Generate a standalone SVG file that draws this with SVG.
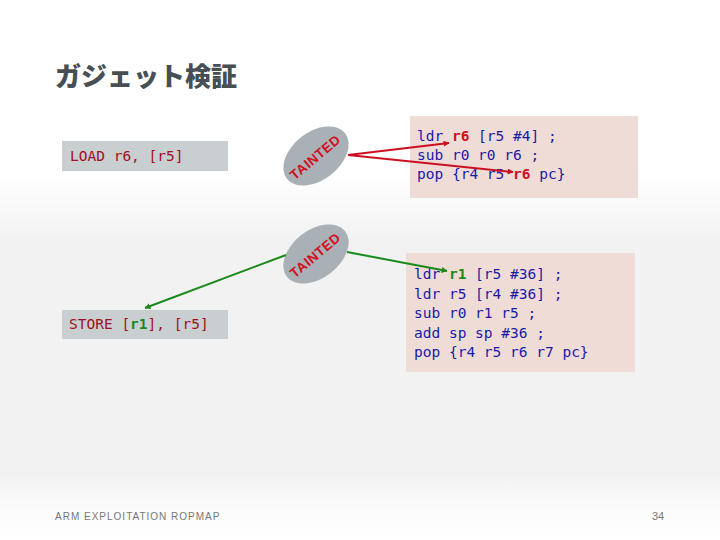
<svg xmlns="http://www.w3.org/2000/svg" width="720" height="540" viewBox="0 0 720 540">
<defs>
<linearGradient id="bg" x1="0" y1="0" x2="0" y2="1">
<stop offset="0" stop-color="#ffffff"/>
<stop offset="0.32" stop-color="#ffffff"/>
<stop offset="0.45" stop-color="#f2f2f2"/>
<stop offset="0.88" stop-color="#f2f2f2"/>
<stop offset="0.94" stop-color="#fbfbfb"/>
<stop offset="1" stop-color="#ffffff"/>
</linearGradient>
<marker id="ar" viewBox="0 0 10 10" refX="9" refY="5" markerWidth="6" markerHeight="6" orient="auto" markerUnits="userSpaceOnUse"><path d="M0,0 L10,5 L0,10 z" fill="#cc1020"/></marker>
<marker id="ag" viewBox="0 0 10 10" refX="9" refY="5" markerWidth="6" markerHeight="6" orient="auto" markerUnits="userSpaceOnUse"><path d="M0,0 L10,5 L0,10 z" fill="#1a8a1a"/></marker>
</defs>
<style>
.mono{font-family:"DejaVu Sans Mono","Liberation Mono",monospace;font-size:14.5px}
.code{fill:#1a1aa8}
.ins{fill:#a01020}
.r{fill:#d01020;font-weight:bold}
.g{fill:#1a8a1a;font-weight:bold}
.gbox{fill:#c9ced1}
.pbox{fill:#efdcd6}
.ell{fill:#a9b1b7}
.taint{font-family:"Liberation Sans",Arial,sans-serif;font-weight:bold;font-size:13.5px;fill:#d01020;letter-spacing:0.5px}
</style>
<rect width="720" height="540" fill="url(#bg)"/>
<text x="55" y="86" font-family="Noto Sans CJK JP, sans-serif" font-weight="900" font-size="26" fill="#474e54">ガジェット検証</text>

<g id="load">
<rect class="gbox" x="62" y="141" width="166" height="30"/>
<text class="mono ins" x="70" y="161" font-size="14">LOAD r6, [r5]</text>
</g>

<g id="store">
<rect class="gbox" x="62" y="310" width="166" height="29"/>
<text class="mono ins" x="69" y="329" font-size="14">STORE [<tspan class="g">r1</tspan>], [r5]</text>
</g>

<g id="tainted1">
<ellipse class="ell" cx="316" cy="156" rx="37" ry="24" transform="rotate(-38 316 156)"/>
<text class="taint" x="315" y="162" text-anchor="middle" transform="rotate(-40 315 157)">TAINTED</text>
</g>

<g id="tainted2">
<ellipse class="ell" cx="316" cy="254" rx="37" ry="24" transform="rotate(-38 316 254)"/>
<text class="taint" x="315" y="260" text-anchor="middle" transform="rotate(-40 315 255)">TAINTED</text>
</g>

<g id="gadget1">
<rect class="pbox" x="410" y="116" width="228" height="82"/>
<text class="mono code" x="417" y="141">ldr <tspan class="r">r6</tspan> [r5 #4] ;</text>
<text class="mono code" x="417" y="160">sub r0 r0 r6 ;</text>
<text class="mono code" x="417" y="179">pop {r4 r5 <tspan class="r">r6</tspan> pc}</text>
</g>

<g id="gadget2">
<rect class="pbox" x="406" y="253" width="229" height="119"/>
<text class="mono code" x="414" y="279">ldr <tspan class="g">r1</tspan> [r5 #36] ;</text>
<text class="mono code" x="414" y="298.5">ldr r5 [r4 #36] ;</text>
<text class="mono code" x="414" y="318">sub r0 r1 r5 ;</text>
<text class="mono code" x="414" y="337.5">add sp sp #36 ;</text>
<text class="mono code" x="414" y="357">pop {r4 r5 r6 r7 pc}</text>
</g>

<g id="connectors" fill="none" stroke-width="2">
<line x1="348" y1="155" x2="449" y2="143" stroke="#cc1020" marker-end="url(#ar)"/>
<line x1="348" y1="155" x2="513" y2="172" stroke="#cc1020" marker-end="url(#ar)"/>
<line x1="286" y1="255" x2="145" y2="308" stroke="#1a8a1a" marker-end="url(#ag)"/>
<line x1="347" y1="252" x2="447" y2="271" stroke="#1a8a1a" marker-end="url(#ag)"/>
</g>

<text x="55" y="520" font-family="Liberation Sans, Arial, sans-serif" font-size="10" fill="#777" letter-spacing="1">ARM EXPLOITATION ROPMAP</text>
<text x="652" y="520" font-family="Liberation Sans, Arial, sans-serif" font-size="11" fill="#777">34</text>
</svg>
